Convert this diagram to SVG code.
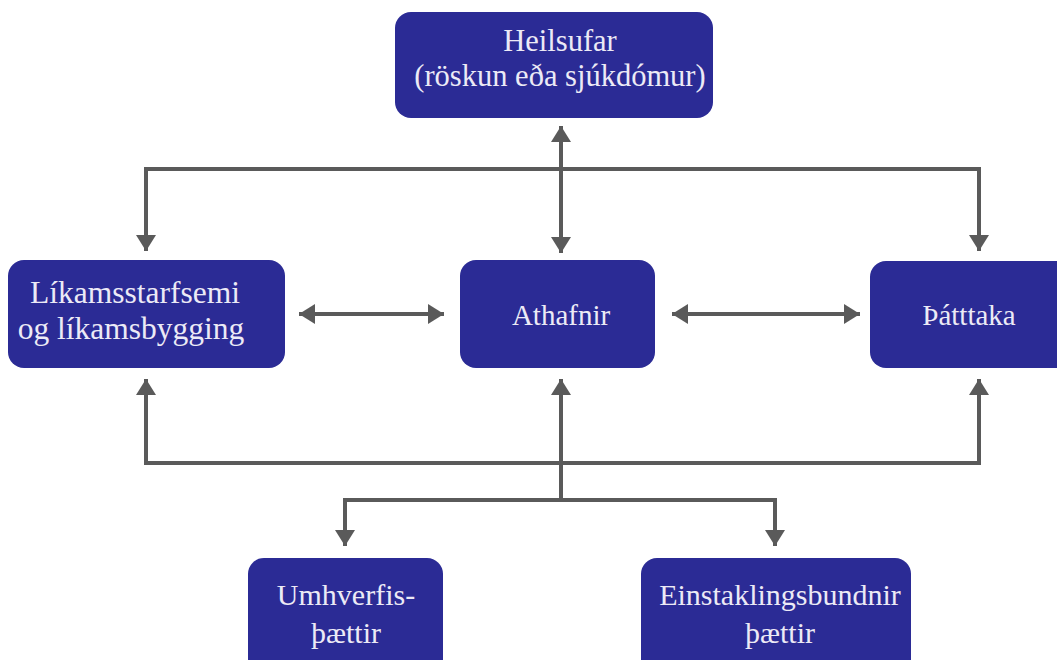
<svg xmlns="http://www.w3.org/2000/svg" width="1057" height="660" viewBox="0 0 1057 660">
<defs>
<marker id="ah" markerUnits="userSpaceOnUse" markerWidth="18" markerHeight="22" viewBox="0 0 18 22" refX="16" refY="11" orient="auto-start-reverse">
<path d="M0,1 L16,11 L0,21 z" fill="#5a5a5a"/>
</marker>
</defs>
<rect width="1057" height="660" fill="#ffffff"/>
<g id="connectors" stroke="#5a5a5a" stroke-width="4" fill="none">
<line x1="561" y1="126" x2="561" y2="253" marker-start="url(#ah)" marker-end="url(#ah)"/>
<polyline points="146,251 146,169 979,169 979,251" marker-start="url(#ah)" marker-end="url(#ah)"/>
<line x1="299" y1="314" x2="444" y2="314" marker-start="url(#ah)" marker-end="url(#ah)"/>
<line x1="672" y1="314" x2="860" y2="314" marker-start="url(#ah)" marker-end="url(#ah)"/>
<polyline points="146,379 146,463 979,463 979,379" marker-start="url(#ah)" marker-end="url(#ah)"/>
<line x1="561" y1="500" x2="561" y2="379" marker-end="url(#ah)"/>
<polyline points="345,546 345,500 775,500 775,546" marker-start="url(#ah)" marker-end="url(#ah)"/>
</g>
<g font-family="Liberation Serif, Times New Roman, serif" font-size="29" fill="#eceaf6" text-anchor="middle">
<g id="heilsufar" font-size="30.5">
<rect fill="#2b2b95" x="395" y="12" width="318" height="106" rx="16"/>
<text x="560" y="51">Heilsufar</text>
<text x="560" y="86">(röskun eða sjúkdómur)</text>
</g>
<g id="likamsstarfsemi" font-size="31.5">
<rect fill="#2b2b95" x="8" y="260" width="277" height="108" rx="16"/>
<text x="135" y="303">Líkamsstarfsemi</text>
<text x="131" y="339">og líkamsbygging</text>
</g>
<g id="athafnir">
<rect fill="#2b2b95" x="460" y="260" width="195" height="108" rx="16"/>
<text x="561" y="325">Athafnir</text>
</g>
<g id="thatttaka">
<rect fill="#2b2b95" x="870" y="261" width="205" height="107" rx="16"/>
<text x="969" y="325">Þátttaka</text>
</g>
<g id="umhverfis" font-size="30">
<rect fill="#2b2b95" x="248" y="558" width="195" height="120" rx="16"/>
<text x="346" y="605">Umhverfis-</text>
<text x="346" y="643">þættir</text>
</g>
<g id="einstaklings" font-size="30">
<rect fill="#2b2b95" x="641" y="558" width="270" height="120" rx="16"/>
<text x="780" y="605">Einstaklingsbundnir</text>
<text x="780" y="643">þættir</text>
</g>
</g>
</svg>
